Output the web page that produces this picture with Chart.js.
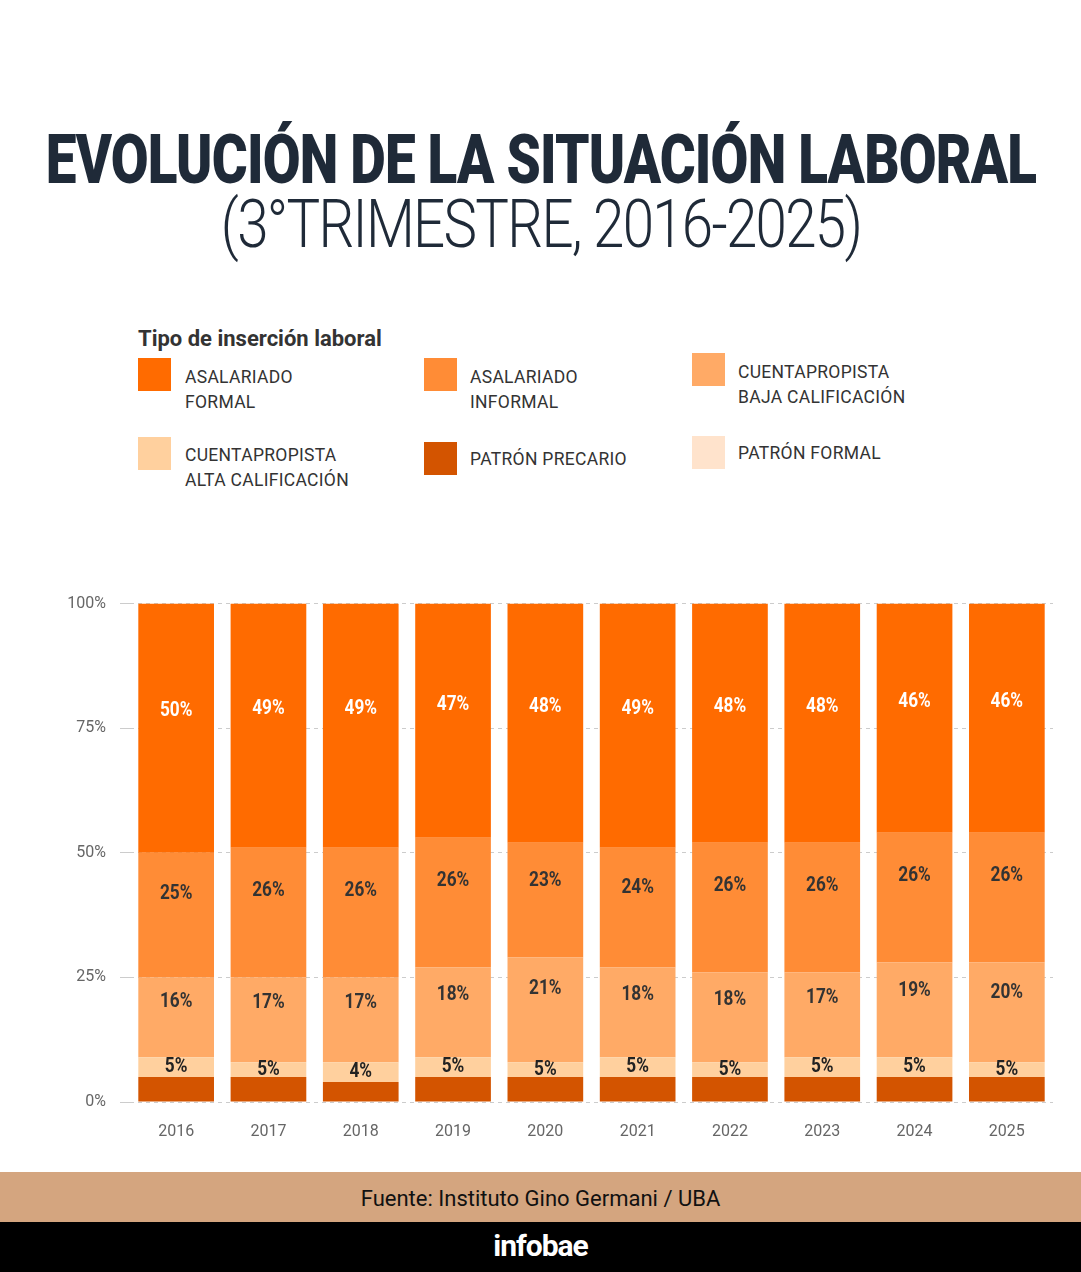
<!DOCTYPE html>
<html><head><meta charset="utf-8">
<script src="https://cdn.jsdelivr.net/npm/chart.js@4/dist/chart.umd.min.js"></script>
<style>
body{margin:0;width:1081px;height:1272px;background:#fff;position:relative;font-family:Roboto,sans-serif;overflow:hidden}
.t{position:absolute;left:50%;white-space:nowrap;color:#1f2a38}
.t1{top:120px;font:900 68px Roboto,sans-serif;letter-spacing:-1px}
.t2{top:186px;font:300 66px Roboto,sans-serif;letter-spacing:-2px}
.lt{position:absolute;top:326px;left:138px;font:bold 22px Roboto,sans-serif;color:#333}
.li{position:absolute;font:17.5px Roboto,sans-serif;line-height:25px;color:#333;letter-spacing:0.3px}
.sw{position:absolute;width:33px;height:33px}
.src{position:absolute;top:1172px;left:0;width:1081px;height:50px;background:#D4A57F;text-align:center;font:22px Roboto,sans-serif;line-height:54px;color:#111}
.bot{position:absolute;top:1222px;left:0;width:1081px;height:50px;background:#000;text-align:center;font:bold 30px Roboto,sans-serif;line-height:48px;color:#fff;letter-spacing:-1px}
#wrap{position:absolute;left:40px;top:580px;width:1013px;height:562px}
</style></head><body>
<div class="t t1" id="t1">EVOLUCIÓN DE LA SITUACIÓN LABORAL</div>
<div class="t t2" id="t2">(3°TRIMESTRE, 2016-2025)</div>
<div class="lt">Tipo de inserción laboral</div>
<div id="legend"></div>
<div id="wrap"><canvas id="miGrafica"></canvas></div>
<div class="src">Fuente: Instituto Gino Germani / UBA</div>
<div class="bot">infobae</div>
<script>
const years = ['2016','2017','2018','2019','2020','2021','2022','2023','2024','2025'];
const yTicks = ['0%','25%','50%','75%','100%'];
// alturas
const precario = [5,5,4,5,5,5,5,5,5,5];
const altaCalif = [4,3,4,4,3,4,3,4,4,3];
const bajaCalif = [16,17,17,18,21,18,18,17,19,20];
const informal = [25,26,26,26,23,24,26,26,26,26];
const formal = [50,49,49,47,48,49,48,48,46,46];
const patronFormal = [0,0,0,0,0,0,0,0,0,0];
// etiquetas mostradas
const lblAlta = [5,5,4,5,5,5,5,5,5,5];
const lblBaja = [16,17,17,18,21,18,18,17,19,20];
const lblInformal = [25,26,26,26,23,24,26,26,26,26];
const lblFormal = [50,49,49,47,48,49,48,48,46,46];
const sinLbl = years.map(()=>null);

const series = [
  {label:'PATRÓN PRECARIO', data:precario, color:'#D35400', lbl:sinLbl, txt:'#222', pos:0.5},
  {label:'CUENTAPROPISTA ALTA CALIFICACIÓN', data:altaCalif, color:'#FFD09E', lbl:lblAlta, txt:'#222', pos:0.5},
  {label:'CUENTAPROPISTA BAJA CALIFICACIÓN', data:bajaCalif, color:'#FFAA66', lbl:lblBaja, txt:'#333', pos:0.3},
  {label:'ASALARIADO INFORMAL', data:informal, color:'#FF8C36', lbl:lblInformal, txt:'#333', pos:0.33},
  {label:'ASALARIADO FORMAL', data:formal, color:'#FF6B00', lbl:lblFormal, txt:'#fff', pos:0.43},
  {label:'PATRÓN FORMAL', data:patronFormal, color:'#FFE3CC', lbl:sinLbl, txt:'#333', pos:0.5},
];

function ajustar(id, w){
  const el=document.getElementById(id);
  el.style.transform='translateX(-50%) scaleX('+(w/el.offsetWidth)+')';
}
ajustar('t1',990); ajustar('t2',640);

const leg = [
  ['#FF6B00','ASALARIADO<br>FORMAL',138,358,185,365],
  ['#FF8C36','ASALARIADO<br>INFORMAL',424,358,470,365],
  ['#FFAA66','CUENTAPROPISTA<br>BAJA CALIFICACIÓN',692,353,738,360],
  ['#FFD09E','CUENTAPROPISTA<br>ALTA CALIFICACIÓN',138,437,185,443],
  ['#D35400','PATRÓN PRECARIO',424,442,470,447],
  ['#FFE3CC','PATRÓN FORMAL',692,436,738,441],
];
let h='';
leg.forEach(l=>{h+=`<div class="sw" style="background:${l[0]};left:${l[2]}px;top:${l[3]}px"></div><div class="li" style="left:${l[4]}px;top:${l[5]}px">${l[1]}</div>`;});
document.getElementById('legend').innerHTML=h;

const etiquetas = {
  id:'etiquetas',
  afterDatasetsDraw(chart){
    const ctx = chart.ctx;
    chart.data.datasets.forEach((ds,i)=>{
      chart.getDatasetMeta(i).data.forEach((bar,j)=>{
        const v = ds.lbl[j];
        if (v==null) return;
        const p = bar.getProps(['x','y','base'],true);
        ctx.save();
        ctx.translate(p.x, p.y + (p.base-p.y)*ds.pos);
        ctx.scale(0.82,1);
        ctx.font = 'bold 21px Roboto,sans-serif';
        ctx.textAlign='center'; ctx.textBaseline='middle';
        ctx.fillStyle = ds.txt;
        ctx.fillText(v+'%', 0, 0);
        ctx.restore();
      });
    });
  }
};

new Chart(document.getElementById('miGrafica'), {
  type:'bar',
  data:{labels:years, datasets:series.map(s=>({label:s.label,data:s.data,backgroundColor:s.color,lbl:s.lbl,txt:s.txt,pos:s.pos,barPercentage:0.82,categoryPercentage:1}))},
  options:{
    responsive:true, maintainAspectRatio:false, animation:false,
    layout:{padding:{top:15,right:0}},
    plugins:{legend:{display:false},tooltip:{enabled:false}},
    scales:{
      x:{stacked:true,grid:{display:false},border:{display:false},
         ticks:{color:'#666',font:{size:16,family:'Roboto'},padding:12},
         afterFit:s=>{s.height=40;}},
      y:{stacked:true,min:0,max:100,
         grid:{color:'#ccc',drawTicks:true,tickLength:10},
         border:{display:false,dash:[4,4]},
         ticks:{stepSize:25,color:'#666',font:{size:16,family:'Roboto'},padding:14,callback:(v,i)=>yTicks[i]},
         afterFit:s=>{s.width=90;}}
    }
  },
  plugins:[etiquetas]
});
</script>
</body></html>
